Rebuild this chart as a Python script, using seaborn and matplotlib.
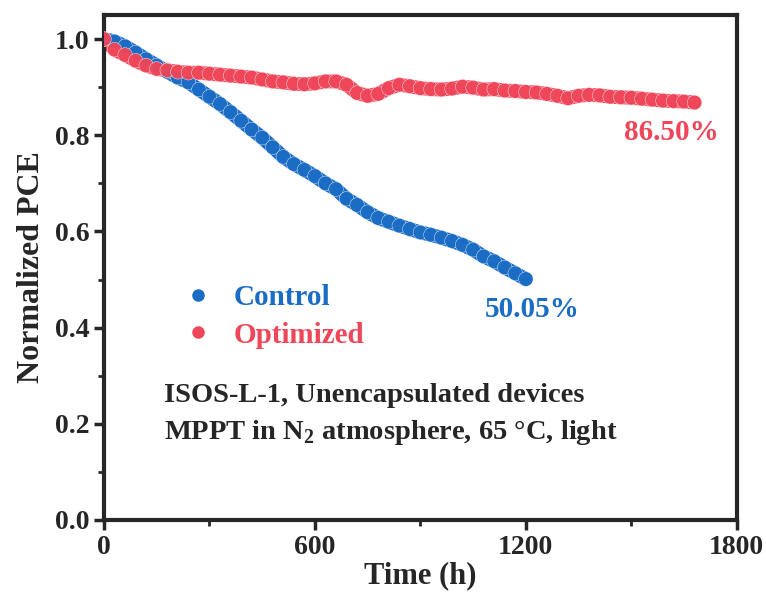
import numpy as np
import pandas as pd
import seaborn as sns
import matplotlib.pyplot as plt
from matplotlib.ticker import MultipleLocator
from matplotlib.lines import Line2D

# data
control_time = [0, 30, 60, 90, 120, 150, 180, 210, 240, 270, 300, 330, 360, 390, 420,
                450, 480, 510, 540, 570, 600, 630, 660, 690, 720, 750, 780, 810, 840,
                870, 900, 930, 960, 990, 1020, 1050, 1080, 1110, 1140, 1170, 1200]
control_pce = [1.000, 0.995, 0.985, 0.972, 0.958, 0.945, 0.932, 0.920, 0.910, 0.895,
               0.880, 0.865, 0.848, 0.830, 0.812, 0.795, 0.775, 0.755, 0.740, 0.728,
               0.715, 0.700, 0.688, 0.668, 0.655, 0.640, 0.628, 0.620, 0.612, 0.605,
               0.598, 0.593, 0.587, 0.580, 0.572, 0.562, 0.548, 0.538, 0.525, 0.513,
               0.501]

optimized_time = [0, 30, 60, 90, 120, 150, 180, 210, 240, 270, 300, 330, 360, 390, 420,
                  450, 480, 510, 540, 570, 600, 630, 660, 690, 720, 750, 780, 810, 840,
                  870, 900, 930, 960, 990, 1020, 1050, 1080, 1110, 1140, 1170, 1200,
                  1230, 1260, 1290, 1320, 1350, 1380, 1410, 1440, 1470, 1500, 1530,
                  1560, 1590, 1620, 1650, 1680]
optimized_pce = [1.000, 0.978, 0.967, 0.955, 0.945, 0.938, 0.935, 0.932, 0.930, 0.930,
                 0.928, 0.926, 0.924, 0.922, 0.920, 0.916, 0.912, 0.910, 0.907, 0.906,
                 0.908, 0.912, 0.912, 0.905, 0.888, 0.882, 0.886, 0.898, 0.905, 0.902,
                 0.898, 0.896, 0.895, 0.897, 0.901, 0.899, 0.895, 0.896, 0.893, 0.892,
                 0.890, 0.889, 0.886, 0.882, 0.877, 0.882, 0.884, 0.883, 0.880, 0.879,
                 0.878, 0.876, 0.874, 0.872, 0.871, 0.870, 0.868]

series_names = ['Control', 'Optimized']
colors = {'Control': '#1a6cc4', 'Optimized': '#ef4659'}
final_labels = ['50.05%', '86.50%']

df = pd.concat([
    pd.DataFrame({'time': control_time, 'pce': control_pce, 'group': 'Control'}),
    pd.DataFrame({'time': optimized_time, 'pce': optimized_pce, 'group': 'Optimized'}),
])

sns.set_style('ticks')
plt.rcParams['font.family'] = ['Liberation Serif', 'DejaVu Serif']
plt.rcParams['font.weight'] = 'bold'
plt.rcParams['mathtext.fontset'] = 'custom'
plt.rcParams['mathtext.rm'] = 'Liberation Serif:bold'

fig = plt.figure(figsize=(7.66, 5.99), dpi=100)
ax = fig.add_axes([0.1358, 0.1319, 0.826, 0.843])

sns.lineplot(data=df, x='time', y='pce', hue='group', palette=colors,
             linewidth=10, legend=False, ax=ax, sort=False)
sns.scatterplot(data=df, x='time', y='pce', hue='group', palette=colors,
                s=110, edgecolor='#ffffff', linewidth=0.3, alpha=0.95,
                legend=False, ax=ax, zorder=3)

ax.set_xlim(0, 1800)
ax.set_ylim(0, 1.05)
ax.xaxis.set_major_locator(MultipleLocator(600))
ax.xaxis.set_minor_locator(MultipleLocator(300))
ax.yaxis.set_major_locator(MultipleLocator(0.2))
ax.yaxis.set_minor_locator(MultipleLocator(0.1))
ax.yaxis.set_major_formatter(plt.FormatStrFormatter('%.1f'))

for s in ax.spines.values():
    s.set_linewidth(3)
    s.set_visible(True)
ax.tick_params(which='major', direction='out', length=7, width=2.5,
               labelsize=20, top=False, right=False)
ax.tick_params(which='minor', direction='out', length=4, width=2,
               top=False, right=False)

ax.set_xlabel('Time (h)', fontsize=22, fontweight='bold', labelpad=1)
ax.set_ylabel('Normalized PCE', fontsize=23, fontweight='bold', labelpad=6)

handles = [Line2D([], [], marker='o', linestyle='none', markersize=8,
                  markerfacecolor=colors[n], markeredgecolor=colors[n]) for n in series_names]
leg = ax.legend(handles, series_names, loc='center left', bbox_to_anchor=(0.08, 0.403),
                frameon=False, handletextpad=0.6, handlelength=1.2, labelspacing=0.35,
                prop={'family': 'Liberation Serif', 'weight': 'bold', 'size': 21})
for txt, n in zip(leg.get_texts(), series_names):
    txt.set_color(colors[n])

ax.text(1217, 0.437, final_labels[0], color=colors['Control'], fontsize=21,
        fontweight='bold', ha='center', va='center')
ax.text(1615, 0.805, final_labels[1], color=colors['Optimized'], fontsize=21,
        fontweight='bold', ha='center', va='center')

ax.text(0.095, 0.2475, 'ISOS-L-1, Unencapsulated devices', transform=ax.transAxes,
        fontsize=20.5, fontweight='bold', ha='left', va='center')
ax.text(0.095, 0.174, r'MPPT in N$_2$ atmosphere, 65 °C, light', transform=ax.transAxes,
        fontsize=20.5, fontweight='bold', ha='left', va='center')

fig.savefig('out.png', dpi=100)
